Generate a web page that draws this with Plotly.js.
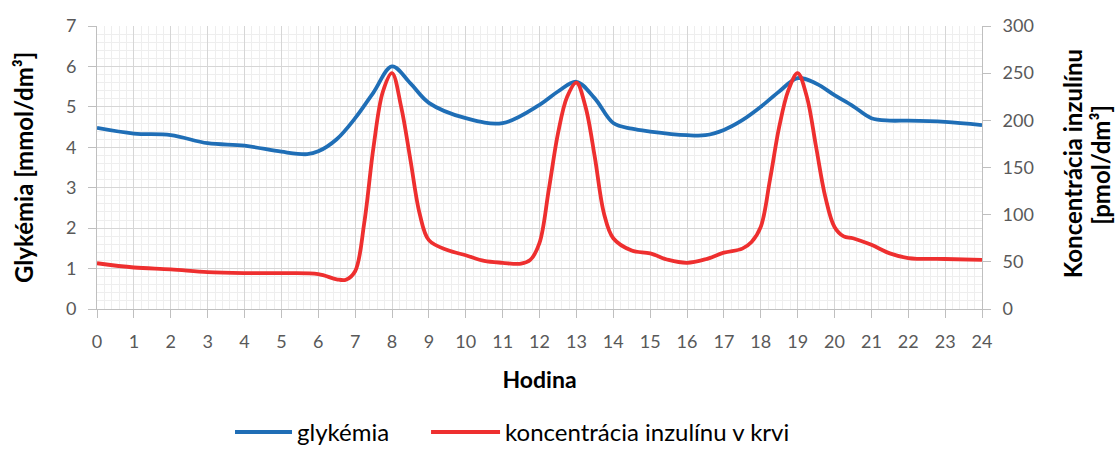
<!DOCTYPE html>
<html>
<head>
<meta charset="utf-8">
<script src="https://cdn.plot.ly/plotly-3.0.1.min.js"></script>
<style>
  html, body { margin: 0; padding: 0; background: #fff; }
  #chart { width: 1117px; height: 449px; }
</style>
</head>
<body>
<div id="chart"></div>
<script>
// Glykémia (mmol/dm³), left axis
const glucoseHours = [0, 1, 2, 3, 4, 5, 5.7, 6, 6.5, 7, 7.5, 8, 8.5, 9, 10, 11, 12, 12.5, 13, 13.5, 14, 14.5, 15, 16, 16.5, 17, 17.5, 18, 18.5, 19, 19.5, 20, 20.5, 21, 21.5, 22, 23, 24];
const glucoseValues = [4.48, 4.34, 4.3, 4.1, 4.04, 3.89, 3.83, 3.9, 4.2, 4.72, 5.36, 6.0, 5.58, 5.1, 4.72, 4.6, 5.05, 5.38, 5.62, 5.21, 4.6, 4.46, 4.39, 4.3, 4.3, 4.43, 4.67, 5.0, 5.38, 5.71, 5.58, 5.29, 5.02, 4.72, 4.66, 4.66, 4.63, 4.55];

// Koncentrácia inzulínu v krvi (pmol/dm³), right axis
const insulinHours = [0, 1, 2, 3, 4, 5, 6, 6.5, 6.75, 7, 7.25, 7.5, 7.75, 8, 8.25, 8.5, 8.75, 9, 9.5, 10, 10.5, 11, 11.5, 11.75, 12, 12.25, 12.5, 12.75, 13, 13.25, 13.5, 13.75, 14, 14.5, 15, 15.5, 16, 16.5, 17, 17.5, 17.75, 18, 18.25, 18.5, 18.75, 19, 19.25, 19.5, 19.75, 20, 20.25, 20.5, 21, 21.5, 22, 23, 24];
const insulinValues = [48.5, 44, 42, 39, 38, 38, 37, 31.5, 31, 40, 92, 172, 230, 250, 214, 158, 101, 73, 62.5, 57, 51, 49, 48, 52, 70, 126, 186, 225, 240, 214, 161, 101, 75, 62, 59, 52, 49, 52.7, 59.7, 64, 71, 87, 137, 193, 232, 250, 225, 172, 119, 87, 77, 75, 68, 59, 54, 53, 52];

const hourTicks = [0, 1, 2, 3, 4, 5, 6, 7, 8, 9, 10, 11, 12, 13, 14, 15, 16, 17, 18, 19, 20, 21, 22, 23, 24];

const glucoseName = "glykémia";
const insulinName = "koncentrácia inzulínu v krvi";

const FONT = "Lato, sans-serif";
const tickFont = {family: FONT, size: 18, color: "#595959"};
const titleFont = {family: FONT, size: 24, color: "#000", weight: "bold"};

const traces = [
  {
    x: glucoseHours, y: glucoseValues, name: glucoseName,
    type: "scatter", mode: "lines",
    line: {color: "#1F6EB6", width: 3.8, shape: "spline", smoothing: 1},
    yaxis: "y", legend: "legend"
  },
  {
    x: insulinHours, y: insulinValues, name: insulinName,
    type: "scatter", mode: "lines",
    line: {color: "#EE2F2F", width: 3.8, shape: "spline", smoothing: 1},
    yaxis: "y2", legend: "legend2"
  }
];

const legendBase = {
  orientation: "h", xanchor: "left", yref: "container", y: 0.037, yanchor: "middle",
  font: {family: FONT, size: 24, color: "#000"}, bgcolor: "rgba(0,0,0,0)"
};

const layout = {
  width: 1117, height: 449,
  margin: {l: 97, r: 135, t: 26, b: 140},
  paper_bgcolor: "#ffffff", plot_bgcolor: "#ffffff",
  font: {family: FONT, color: "#000"},
  showlegend: true,
  legend: Object.assign({}, legendBase, {x: 0.1503, itemwidth: 57}),
  legend2: Object.assign({}, legendBase, {x: 0.3718, itemwidth: 69}),
  xaxis: {
    range: [0, 24], tickvals: hourTicks, ticktext: hourTicks.map(String),
    ticks: "outside", ticklen: 8, tickcolor: "#bfbfbf",
    tickfont: tickFont, ticklabelstandoff: 8,
    showgrid: true, gridcolor: "#d6d6d6", gridwidth: 1,
    minor: {dtick: 0.2, showgrid: true, gridcolor: "#eeeeee", gridwidth: 1, ticks: ""},
    showline: true, linecolor: "#bfbfbf", linewidth: 1,
    zeroline: false, automargin: false,
    title: {text: "Hodina", font: {family: FONT, size: 23, color: "#000", weight: "bold"}, standoff: 21}
  },
  yaxis: {
    range: [0, 7], dtick: 1, tick0: 0,
    ticks: "outside", ticklen: 8, tickcolor: "#bfbfbf",
    tickfont: tickFont, ticklabelstandoff: 8,
    showgrid: true, gridcolor: "#d6d6d6", gridwidth: 1,
    minor: {dtick: 0.2, showgrid: true, gridcolor: "#eeeeee", gridwidth: 1, ticks: ""},
    showline: true, linecolor: "#bfbfbf", linewidth: 1,
    zeroline: false, automargin: false
  },
  yaxis2: {
    range: [0, 300], dtick: 50, tick0: 0,
    overlaying: "y", side: "right",
    ticks: "outside", ticklen: 8, tickcolor: "#bfbfbf",
    tickfont: tickFont, ticklabelstandoff: 8,
    showgrid: false, zeroline: false, automargin: false,
    showline: true, linecolor: "#bfbfbf", linewidth: 1
  },
  annotations: [
    {
      text: "Glykémia [mmol/dm³]", textangle: -90,
      xref: "paper", yref: "paper", x: -0.083, y: 0.5,
      xanchor: "center", yanchor: "middle", showarrow: false,
      font: titleFont
    },
    {
      text: "Koncentrácia inzulínu", textangle: -90,
      xref: "paper", yref: "paper", x: 1.1025, y: 0.514,
      xanchor: "center", yanchor: "middle", showarrow: false,
      font: titleFont
    },
    {
      text: "[pmol/dm³]", textangle: -90,
      xref: "paper", yref: "paper", x: 1.1345, y: 0.51,
      xanchor: "center", yanchor: "middle", showarrow: false,
      font: titleFont
    }
  ]
};

Plotly.newPlot("chart", traces, layout, {displayModeBar: false, staticPlot: true});
</script>
</body>
</html>
